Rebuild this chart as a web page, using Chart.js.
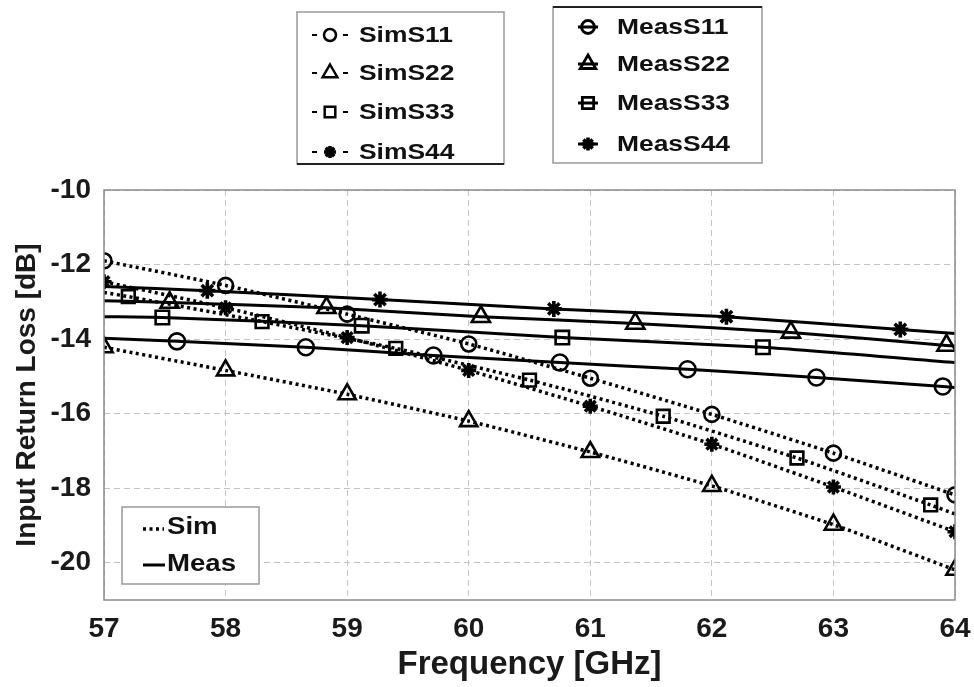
<!DOCTYPE html>
<html>
<head>
<meta charset="utf-8">
<script src="https://cdn.jsdelivr.net/npm/chart.js@4.4.1/dist/chart.umd.min.js"></script>
<style>
html, body { margin: 0; padding: 0; background: #fff; }
#wrap { width: 974px; height: 687px; }
</style>
</head>
<body>
<div id="wrap"><canvas id="myChart" width="974" height="687"></canvas></div>
<script>
var FONT = "'Liberation Sans', Arial, sans-serif";

// axes
var xTicks = [57, 58, 59, 60, 61, 62, 63, 64];
var yTicks = [-10, -12, -14, -16, -18, -20];

// simulated
var simFreq = [57, 58, 59, 60, 61, 62, 63, 64];
var simS11 = [-11.9, -12.56, -13.33, -14.13, -15.05, -16.02, -17.06, -18.18];
var simS22 = [-14.22, -14.84, -15.48, -16.2, -17.03, -17.94, -18.98, -20.19];
var simS44 = [-12.46, -13.16, -13.96, -14.84, -15.8, -16.82, -17.97, -19.17];
var simS33Freq = [57, 57.2, 58.3, 59.4, 60.5, 61.6, 62.7, 63.8, 64];
var simS33 = [-12.75, -12.86, -13.53, -14.25, -15.1, -16.07, -17.19, -18.45, -18.69];

// measured
var measS11Freq = [57, 57.6, 58.66, 59.71, 60.75, 61.8, 62.86, 63.9, 64];
var measS11 = [-13.98, -14.06, -14.22, -14.44, -14.63, -14.81, -15.03, -15.27, -15.3];
var measS22Freq = [57, 57.54, 58.83, 60.1, 61.37, 62.65, 63.93, 64];
var measS22 = [-12.97, -13.02, -13.16, -13.4, -13.58, -13.82, -14.17, -14.19];
var measS33Freq = [57, 57.48, 59.12, 60.77, 62.42, 64];
var measS33 = [-13.4, -13.42, -13.64, -13.96, -14.22, -14.63];
var measS44Freq = [57, 57.85, 59.27, 60.7, 62.12, 63.55, 64];
var measS44 = [-12.59, -12.7, -12.94, -13.19, -13.4, -13.74, -13.85];

var simNames = ['SimS11', 'SimS22', 'SimS33', 'SimS44'];
var measNames = ['MeasS11', 'MeasS22', 'MeasS33', 'MeasS44'];
var markerStyles = ['circle', 'triangle', 'rect', 'star'];

function pts(xs, ys) {
    return xs.map(function (x, i) { return { x: x, y: ys[i] }; });
}

function markerSize(style, meas) {
    var base = { circle: 7.5, triangle: 10, rect: 9, star: 7.5 }[style];
    return meas ? base + 0.5 : base;
}

function makeSet(label, xs, ys, style, meas, endMarkers) {
    var r = markerSize(style, meas);
    return {
        label: label,
        data: pts(xs, ys),
        borderColor: '#000',
        borderWidth: meas ? 3 : 3.5,
        borderDash: meas ? [] : [3, 3.5],
        backgroundColor: 'rgba(0,0,0,0)',
        pointStyle: style,
        pointBorderColor: '#000',
        pointBackgroundColor: 'rgba(0,0,0,0)',
        pointBorderWidth: style === 'star' ? 3.6 : 2.6,
        pointRadius: function (ctx) {
            var n = ctx.dataset.data.length;
            if (!endMarkers && (ctx.dataIndex === 0 || ctx.dataIndex === n - 1)) return 0;
            return r;
        },
        tension: 0.2,
        fill: false
    };
}

function drawMark(ctx, style, x, y, r) {
    ctx.beginPath();
    if (style === 'circle') {
        ctx.arc(x, y, r, 0, Math.PI * 2);
    } else if (style === 'triangle') {
        ctx.moveTo(x, y - r);
        ctx.lineTo(x + r * 0.866, y + r * 0.5);
        ctx.lineTo(x - r * 0.866, y + r * 0.5);
        ctx.closePath();
    } else if (style === 'rect') {
        var s = r * Math.SQRT1_2;
        ctx.rect(x - s, y - s, 2 * s, 2 * s);
    } else {
        for (var k = 0; k < 4; k++) {
            var a = k * Math.PI / 4;
            ctx.moveTo(x - Math.cos(a) * r, y - Math.sin(a) * r);
            ctx.lineTo(x + Math.cos(a) * r, y + Math.sin(a) * r);
        }
    }
    ctx.stroke();
}

function stretchText(ctx, text, x, y, size) {
    ctx.save();
    ctx.translate(x, y);
    ctx.scale(1.2, 1);
    ctx.font = 'bold ' + size + 'px ' + FONT;
    ctx.textBaseline = 'middle';
    ctx.fillStyle = '#111';
    ctx.fillText(text, 0, 0);
    ctx.restore();
}

var extras = {
    id: 'extras',
    afterDraw: function (chart) {
        var ctx = chart.ctx;
        var a = chart.chartArea;
        ctx.save();
        // plot frame
        ctx.strokeStyle = '#8c8c8c';
        ctx.lineWidth = 1.5;
        ctx.setLineDash([]);
        ctx.strokeRect(a.left, a.top, a.right - a.left, a.bottom - a.top);

        // legend box 1 (simulated)
        ctx.fillStyle = '#fff';
        ctx.fillRect(297, 12, 207, 152);
        ctx.strokeStyle = '#9a9a9a';
        ctx.strokeRect(297, 12, 207, 152);
        ctx.strokeStyle = '#222';
        ctx.lineWidth = 2;
        ctx.beginPath(); ctx.moveTo(297, 164); ctx.lineTo(504, 164); ctx.stroke();
        var y1 = [35, 73, 112, 152];
        for (var i = 0; i < 4; i++) {
            ctx.strokeStyle = '#000';
            ctx.lineWidth = 2;
            ctx.beginPath();
            ctx.moveTo(312, y1[i]); ctx.lineTo(317, y1[i]);
            ctx.moveTo(343, y1[i]); ctx.lineTo(348, y1[i]);
            ctx.stroke();
            ctx.lineWidth = markerStyles[i] === 'star' ? 3.6 : 2.5;
            drawMark(ctx, markerStyles[i], 330, y1[i], markerSize(markerStyles[i], false) - 1.5);
            stretchText(ctx, simNames[i], 359, y1[i] + 1, 22);
        }

        // legend box 2 (measured)
        ctx.fillStyle = '#fff';
        ctx.fillRect(553, 7, 209, 156);
        ctx.strokeStyle = '#9a9a9a';
        ctx.lineWidth = 1.5;
        ctx.strokeRect(553, 7, 209, 156);
        ctx.strokeStyle = '#222';
        ctx.lineWidth = 2;
        ctx.beginPath(); ctx.moveTo(553, 7); ctx.lineTo(762, 7); ctx.stroke();
        var y2 = [27, 64, 103, 144];
        for (var j = 0; j < 4; j++) {
            ctx.strokeStyle = '#000';
            ctx.lineWidth = 3;
            ctx.beginPath();
            ctx.moveTo(578, y2[j]); ctx.lineTo(598, y2[j]);
            ctx.stroke();
            ctx.lineWidth = markerStyles[j] === 'star' ? 3.6 : 2.8;
            drawMark(ctx, markerStyles[j], 588, y2[j], markerSize(markerStyles[j], true) - 1.5);
            stretchText(ctx, measNames[j], 617, y2[j] + 1, 22);
        }

        // line-style legend inside plot
        ctx.fillStyle = '#fff';
        ctx.fillRect(122, 507, 137, 77);
        ctx.strokeStyle = '#9a9a9a';
        ctx.lineWidth = 1.5;
        ctx.strokeRect(122, 507, 137, 77);
        ctx.strokeStyle = '#000';
        ctx.lineWidth = 3.5;
        ctx.setLineDash([3, 3.5]);
        ctx.beginPath(); ctx.moveTo(143, 529); ctx.lineTo(164, 529); ctx.stroke();
        ctx.setLineDash([]);
        ctx.lineWidth = 3;
        ctx.beginPath(); ctx.moveTo(143, 565); ctx.lineTo(165, 565); ctx.stroke();
        stretchText(ctx, 'Sim', 167, 528, 23);
        stretchText(ctx, 'Meas', 167, 565, 23);
        ctx.restore();
    }
};

new Chart(document.getElementById('myChart'), {
    type: 'line',
    data: {
        datasets: [
            makeSet('SimS11', simFreq, simS11, 'circle', false, true),
            makeSet('SimS22', simFreq, simS22, 'triangle', false, true),
            makeSet('SimS33', simS33Freq, simS33, 'rect', false, false),
            makeSet('SimS44', simFreq, simS44, 'star', false, true),
            makeSet('MeasS11', measS11Freq, measS11, 'circle', true, false),
            makeSet('MeasS22', measS22Freq, measS22, 'triangle', true, false),
            makeSet('MeasS33', measS33Freq, measS33, 'rect', true, false),
            makeSet('MeasS44', measS44Freq, measS44, 'star', true, false)
        ]
    },
    options: {
        responsive: false,
        animation: false,
        devicePixelRatio: 1,
        layout: { padding: { top: 190, right: 0, left: 0, bottom: 0 } },
        plugins: {
            legend: { display: false },
            tooltip: { enabled: false }
        },
        scales: {
            x: {
                type: 'linear',
                min: 57,
                max: 64,
                afterBuildTicks: function (scale) {
                    scale.ticks = xTicks.map(function (v) { return { value: v }; });
                },
                afterFit: function (scale) {
                    scale.height = 87;
                    scale.paddingLeft = 0;
                    scale.paddingRight = 19;
                },
                grid: { color: '#c4c4c4', lineWidth: 1, drawTicks: false },
                border: { display: false, dash: [6, 4] },
                ticks: {
                    padding: 12,
                    color: '#1a1a1a',
                    font: { family: FONT, size: 28, weight: 'bold' },
                    maxRotation: 0
                },
                title: {
                    display: true,
                    text: 'Frequency [GHz]',
                    color: '#1a1a1a',
                    font: { family: FONT, size: 33, weight: 'bold', lineHeight: 1.2 },
                    padding: { top: 0, bottom: 2 }
                }
            },
            y: {
                type: 'linear',
                min: -21,
                max: -10,
                afterBuildTicks: function (scale) {
                    scale.ticks = yTicks.map(function (v) { return { value: v }; });
                },
                afterFit: function (scale) { scale.width = 104; },
                grid: { color: '#c4c4c4', lineWidth: 1, drawTicks: false },
                border: { display: false, dash: [6, 4] },
                ticks: {
                    padding: 13,
                    color: '#1a1a1a',
                    font: { family: FONT, size: 28, weight: 'bold' }
                },
                title: {
                    display: true,
                    text: 'Input Return Loss [dB]',
                    color: '#1a1a1a',
                    font: { family: FONT, size: 28, weight: 'bold', lineHeight: 1.2 },
                    padding: { top: 10, bottom: 0 }
                }
            }
        }
    },
    plugins: [extras]
});
</script>
</body>
</html>
